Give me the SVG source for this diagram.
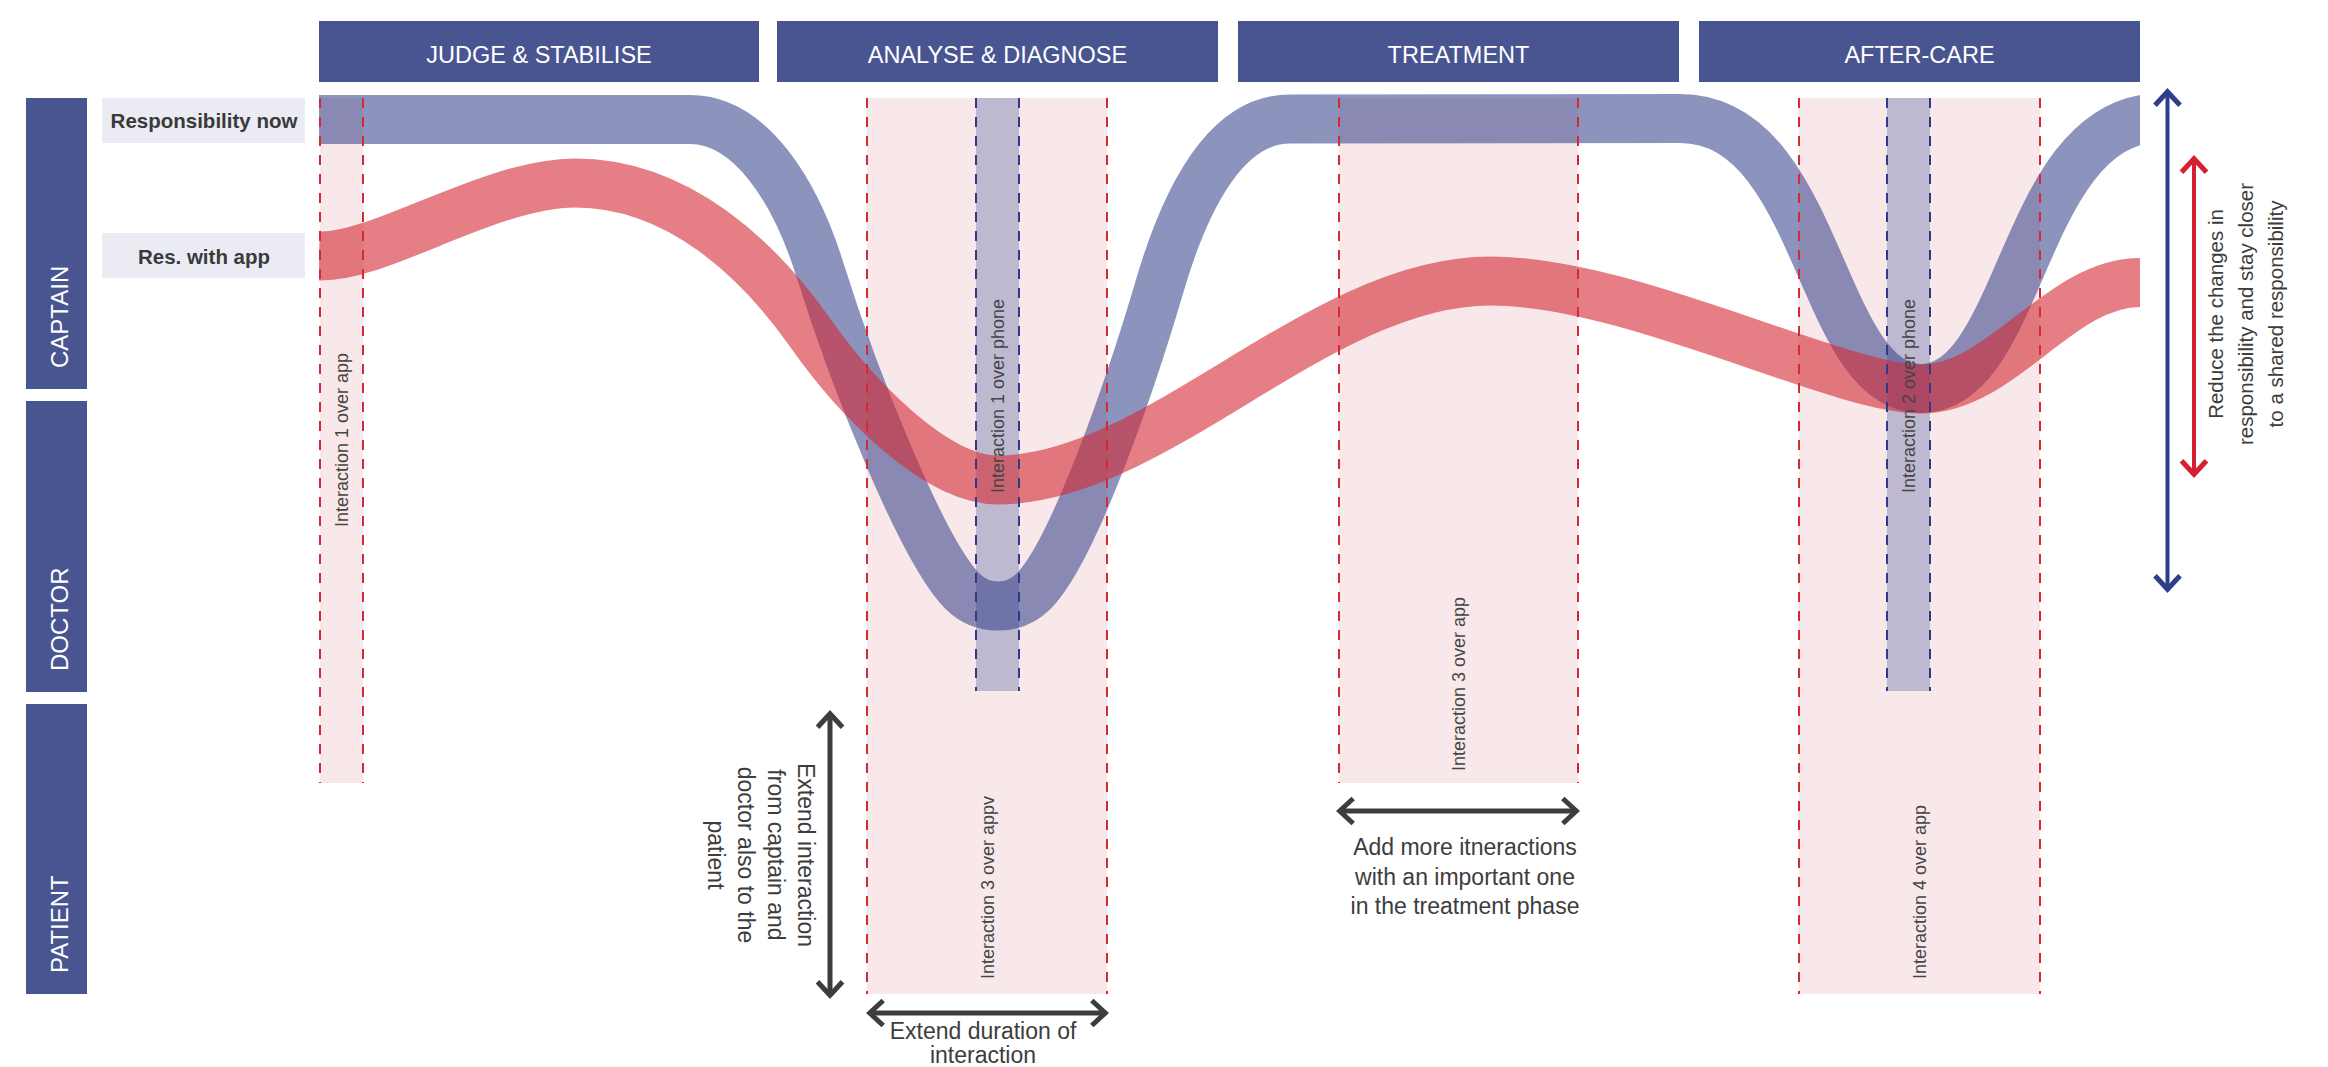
<svg xmlns="http://www.w3.org/2000/svg" width="2328" height="1067" viewBox="0 0 2328 1067">
<defs>
<style>
text { font-family: "Liberation Sans", Arial, sans-serif; }
.hdr { fill: #485591; }
.hdr-t { font-size: 23.5px; fill: #ffffff; text-anchor: middle; }
.lane-t { font-size: 24px; fill: #ffffff; }
.lbl { fill: #ebebf3; }
.lbl-t { font-size: 20.5px; font-weight: bold; fill: #3a3a3a; text-anchor: middle; }
.zone { fill: #f8e8ea; }
.strip { fill: #beb8d0; }
.rdash { stroke: #d42a33; stroke-width: 2; stroke-dasharray: 10 9; fill: none; }
.bdash { stroke: #2e3a87; stroke-width: 2; stroke-dasharray: 10 9; fill: none; }
.band-b { fill: none; stroke: #2e3a87; stroke-opacity: 0.55; stroke-width: 49; }
.band-r { fill: none; stroke: #d42a33; stroke-opacity: 0.6; stroke-width: 49; }
.it { font-size: 18px; fill: #454545; }
.note-m { font-size: 23px; fill: #3d3d3d; text-anchor: middle; }
.side { font-size: 20.5px; fill: #3d3d3d; text-anchor: middle; }
.garrow { stroke: #3d3d3d; stroke-width: 5; fill: none; }
.barrow { stroke: #2f3e8a; stroke-width: 4; fill: none; }
.rarrow { stroke: #d42030; stroke-width: 4; fill: none; }
</style>
<marker id="ah-g" markerUnits="userSpaceOnUse" markerWidth="40" markerHeight="40" viewBox="-20 -20 40 40" refX="0" refY="0" orient="auto-start-reverse" overflow="visible">
<path d="M -14.2 -12.5 L -0.7 0 L -14.2 12.5" fill="none" stroke="#3d3d3d" stroke-width="5"/>
</marker>
<marker id="ah-b" markerUnits="userSpaceOnUse" markerWidth="40" markerHeight="40" viewBox="-20 -20 40 40" refX="0" refY="0" orient="auto-start-reverse" overflow="visible">
<path d="M -14.2 -12.5 L -0.7 0 L -14.2 12.5" fill="none" stroke="#2f3e8a" stroke-width="5"/>
</marker>
<marker id="ah-r" markerUnits="userSpaceOnUse" markerWidth="40" markerHeight="40" viewBox="-20 -20 40 40" refX="0" refY="0" orient="auto-start-reverse" overflow="visible">
<path d="M -14.2 -12.5 L -0.7 0 L -14.2 12.5" fill="none" stroke="#d42030" stroke-width="5"/>
</marker>
<clipPath id="bandclip"><rect x="319" y="0" width="1821" height="1067"/></clipPath>
</defs>
<rect x="0" y="0" width="2328" height="1067" fill="#ffffff"/>

<g id="phases">
<g id="phase-judge"><rect class="hdr" x="319" y="21" width="440" height="61"/><text class="hdr-t" x="539" y="63">JUDGE &amp; STABILISE</text></g>
<g id="phase-analyse"><rect class="hdr" x="777" y="21" width="441" height="61"/><text class="hdr-t" x="997.5" y="63">ANALYSE &amp; DIAGNOSE</text></g>
<g id="phase-treatment"><rect class="hdr" x="1238" y="21" width="441" height="61"/><text class="hdr-t" x="1458.5" y="63">TREATMENT</text></g>
<g id="phase-aftercare"><rect class="hdr" x="1699" y="21" width="441" height="61"/><text class="hdr-t" x="1919.5" y="63">AFTER-CARE</text></g>
</g>

<g id="lanes">
<g id="lane-captain"><rect class="hdr" x="26" y="98" width="61" height="291"/><text class="lane-t" transform="translate(68 368) rotate(-90)">CAPTAIN</text></g>
<g id="lane-doctor"><rect class="hdr" x="26" y="401" width="61" height="291"/><text class="lane-t" transform="translate(68 671) rotate(-90)">DOCTOR</text></g>
<g id="lane-patient"><rect class="hdr" x="26" y="704" width="61" height="290"/><text class="lane-t" transform="translate(68 973) rotate(-90)">PATIENT</text></g>
</g>

<g id="legend">
<g id="legend-now"><rect class="lbl" x="102" y="98" width="203" height="45"/><text class="lbl-t" x="204" y="128">Responsibility now</text></g>
<g id="legend-app"><rect class="lbl" x="102" y="233" width="203" height="45"/><text class="lbl-t" x="204" y="264">Res. with app</text></g>
</g>

<g id="zones">
<rect class="zone" x="320" y="98" width="43" height="685"/>
<rect class="zone" x="867" y="98" width="240" height="896"/>
<rect class="zone" x="1339" y="98" width="239" height="685"/>
<rect class="zone" x="1799" y="98" width="241" height="896"/>
<rect class="strip" x="976" y="98" width="43" height="593"/>
<rect class="strip" x="1887" y="98" width="43" height="593"/>
</g>

<g id="bands" clip-path="url(#bandclip)">
<path id="band-now" class="band-b" d="M 319 119.5 L 690 119.5 C 750 119.5, 795 190, 820 270 C 855 382, 922.6 551.4, 962.6 591.4 C 972 600.8, 984.7 606, 998 606 C 1011.3 606, 1024 600.8, 1033.4 591.4 C 1073.4 551.4, 1130 387, 1160 285 C 1185 200, 1225 119, 1290 119 L 1680 118.5 C 1821 118.5, 1818 388.5, 1921 388.5 C 2024 388.5, 2021 117.5, 2162 117.5"/>
<path id="band-app" class="band-r" d="M 319 256 C 380 258, 490 183, 575 183 C 680 183, 760 262, 809 331 C 855 397, 935 480, 998 480 C 1155 480, 1319 281, 1490 281 C 1631 281, 1837 389, 1921 389 C 2002 389, 2059 282.5, 2140 282.5"/>
</g>

<g id="zone-borders">
<line class="rdash" x1="320" y1="98" x2="320" y2="783"/>
<line class="rdash" x1="363" y1="98" x2="363" y2="783"/>
<line class="rdash" x1="867" y1="98" x2="867" y2="994"/>
<line class="rdash" x1="1107" y1="98" x2="1107" y2="994"/>
<line class="rdash" x1="1339" y1="98" x2="1339" y2="783"/>
<line class="rdash" x1="1578" y1="98" x2="1578" y2="783"/>
<line class="rdash" x1="1799" y1="98" x2="1799" y2="994"/>
<line class="rdash" x1="2040" y1="98" x2="2040" y2="994"/>
<line class="bdash" x1="976" y1="98" x2="976" y2="691"/>
<line class="bdash" x1="1019" y1="98" x2="1019" y2="691"/>
<line class="bdash" x1="1887" y1="98" x2="1887" y2="691"/>
<line class="bdash" x1="1930" y1="98" x2="1930" y2="691"/>
</g>

<g id="interactions">
<text class="it" transform="translate(348 527) rotate(-90)">Interaction 1 over app</text>
<text class="it" transform="translate(1004 493) rotate(-90)">Interaction 1 over phone</text>
<text class="it" transform="translate(993.5 979) rotate(-90)">Interaction 3 over appv</text>
<text class="it" transform="translate(1465 771) rotate(-90)">Interaction 3 over app</text>
<text class="it" transform="translate(1915 493) rotate(-90)">Interaction 2 over phone</text>
<text class="it" transform="translate(1926 979) rotate(-90)">Interaction 4 over app</text>
</g>

<g id="connectors">
<line class="garrow" x1="830" y1="713" x2="830" y2="996" marker-start="url(#ah-g)" marker-end="url(#ah-g)"/>
<line class="garrow" x1="869" y1="1013" x2="1106" y2="1013" marker-start="url(#ah-g)" marker-end="url(#ah-g)"/>
<line class="garrow" x1="1339" y1="811" x2="1577" y2="811" marker-start="url(#ah-g)" marker-end="url(#ah-g)"/>
<line class="barrow" x1="2167.5" y1="91" x2="2167.5" y2="590" marker-start="url(#ah-b)" marker-end="url(#ah-b)"/>
<line class="rarrow" x1="2194" y1="158" x2="2194" y2="475" marker-start="url(#ah-r)" marker-end="url(#ah-r)"/>
</g>

<g id="notes">
<text class="note-m" transform="translate(798 855) rotate(90)"><tspan x="0" y="0">Extend interaction</tspan><tspan x="0" y="30">from captain and</tspan><tspan x="0" y="60">doctor also to the</tspan><tspan x="0" y="90">patient</tspan></text>
<text class="note-m"><tspan x="983" y="1039">Extend duration of</tspan><tspan x="983" y="1063">interaction</tspan></text>
<text class="note-m"><tspan x="1465" y="855">Add more itneractions</tspan><tspan x="1465" y="884.5">with an important one</tspan><tspan x="1465" y="914">in the treatment phase</tspan></text>
<text class="side" transform="translate(2223 314) rotate(-90)"><tspan x="0" y="0">Reduce the changes in</tspan><tspan x="0" y="30">responsibility and stay closer</tspan><tspan x="0" y="60">to a shared responsibility</tspan></text>
</g>
</svg>
